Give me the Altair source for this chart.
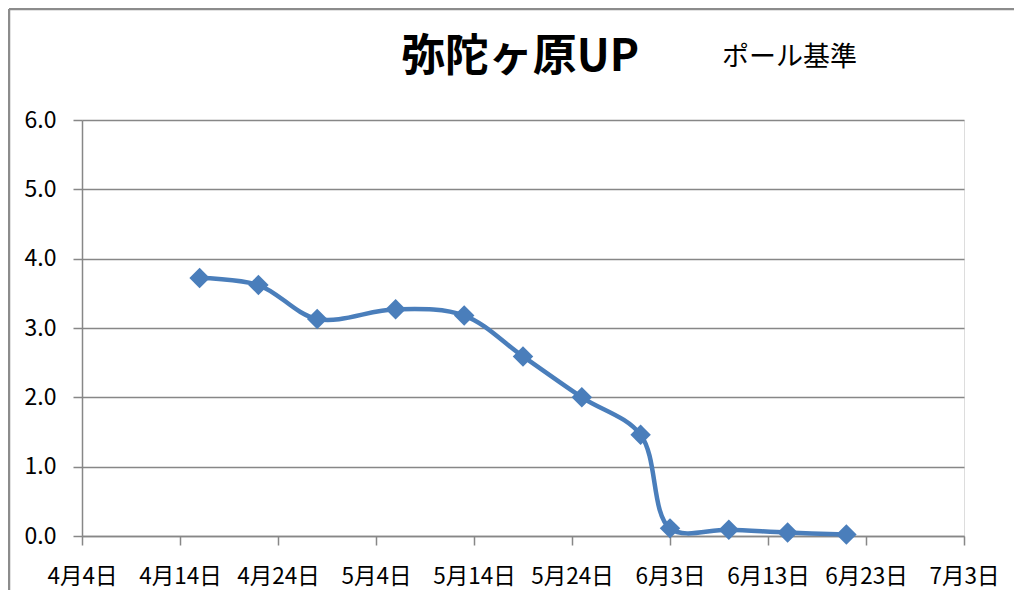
import altair as alt
import pandas as pd

# data
dates = ["2013-04-16", "2013-04-22", "2013-04-28", "2013-05-06", "2013-05-13", "2013-05-19",
         "2013-05-25", "2013-05-31", "2013-06-03", "2013-06-09", "2013-06-15", "2013-06-21"]
values = [3.72, 3.62, 3.13, 3.27, 3.18, 2.59, 2.00, 1.46, 0.11, 0.09, 0.05, 0.02]
tick_dates = [(4, 4), (4, 14), (4, 24), (5, 4), (5, 14), (5, 24), (6, 3), (6, 13), (6, 23), (7, 3)]
y_ticks = [0, 1, 2, 3, 4, 5, 6]
title_main = "弥陀ヶ原UP"
title_sub = "ポール基準"

FONT = "Noto Sans CJK JP"
GRAY = "#878787"
BLUE = "#4a7ebb"

df = pd.DataFrame({"date": dates, "value": values})

x_enc = alt.X(
    "date:T",
    scale=alt.Scale(type="utc",
                    domain=[alt.DateTime(year=2013, month=4, date=4, utc=True),
                            alt.DateTime(year=2013, month=7, date=3, utc=True)]),
    axis=alt.Axis(
        values=[alt.DateTime(year=2013, month=m, date=d, utc=True) for m, d in tick_dates],
        labelExpr="(utcmonth(datum.value)+1) + '月' + utcdate(datum.value) + '日'",
        title=None, grid=False, domainColor=GRAY, domainWidth=1.5, tickColor=GRAY,
        tickWidth=1.5, tickSize=9, labelFontSize=22.5, labelFont=FONT, labelColor="#000000",
        labelPadding=20, labelFlush=False, labelOverlap=False,
    ),
)
y_enc = alt.Y(
    "value:Q",
    scale=alt.Scale(domain=[0, 6], nice=False, zero=True),
    axis=alt.Axis(
        values=y_ticks, format=".1f", title=None, grid=True, gridColor=GRAY, gridWidth=1.5,
        domainColor=GRAY, domainWidth=1.5, tickColor=GRAY, tickWidth=1.5, tickSize=9,
        labelFontSize=23, labelFont=FONT, labelColor="#000000", labelPadding=17,
    ),
)

base = alt.Chart(df)
line = base.mark_line(interpolate="catmull-rom", color=BLUE, strokeWidth=4.5).encode(x=x_enc, y=y_enc)
pts = base.mark_point(shape="diamond", filled=True, size=420, color=BLUE, opacity=1).encode(x=x_enc, y=y_enc)

one = pd.DataFrame({"k": [0]})
t1 = alt.Chart(one).mark_text(font=FONT, fontSize=44, fontWeight="bold", align="center",
                              baseline="alphabetic", color="#000000").encode(
    x=alt.value(438), y=alt.value(-49), text=alt.value(title_main))
t2 = alt.Chart(one).mark_text(font=FONT, fontSize=27, align="left",
                              baseline="alphabetic", color="#000000").encode(
    x=alt.value(640), y=alt.value(-54), text=alt.value(title_sub))
border_top = alt.Chart(one).mark_rule(color="#8c8c8c", strokeWidth=2.5).encode(
    x=alt.value(-73), x2=alt.value(940), y=alt.value(-111))
border_left = alt.Chart(one).mark_rule(color="#8c8c8c", strokeWidth=2.5).encode(
    x=alt.value(-73), y=alt.value(-111), y2=alt.value(470))

chart = alt.layer(line, pts, t1, t2, border_top, border_left).properties(
    width=882, height=416,
    autosize=alt.AutoSizeParams(type="none"),
    padding={"left": 74, "top": 112, "right": 50, "bottom": 56},
).configure_view(stroke=None).configure(background="white")

chart.save("out.html", embed_options={"renderer": "svg", "actions": False})
